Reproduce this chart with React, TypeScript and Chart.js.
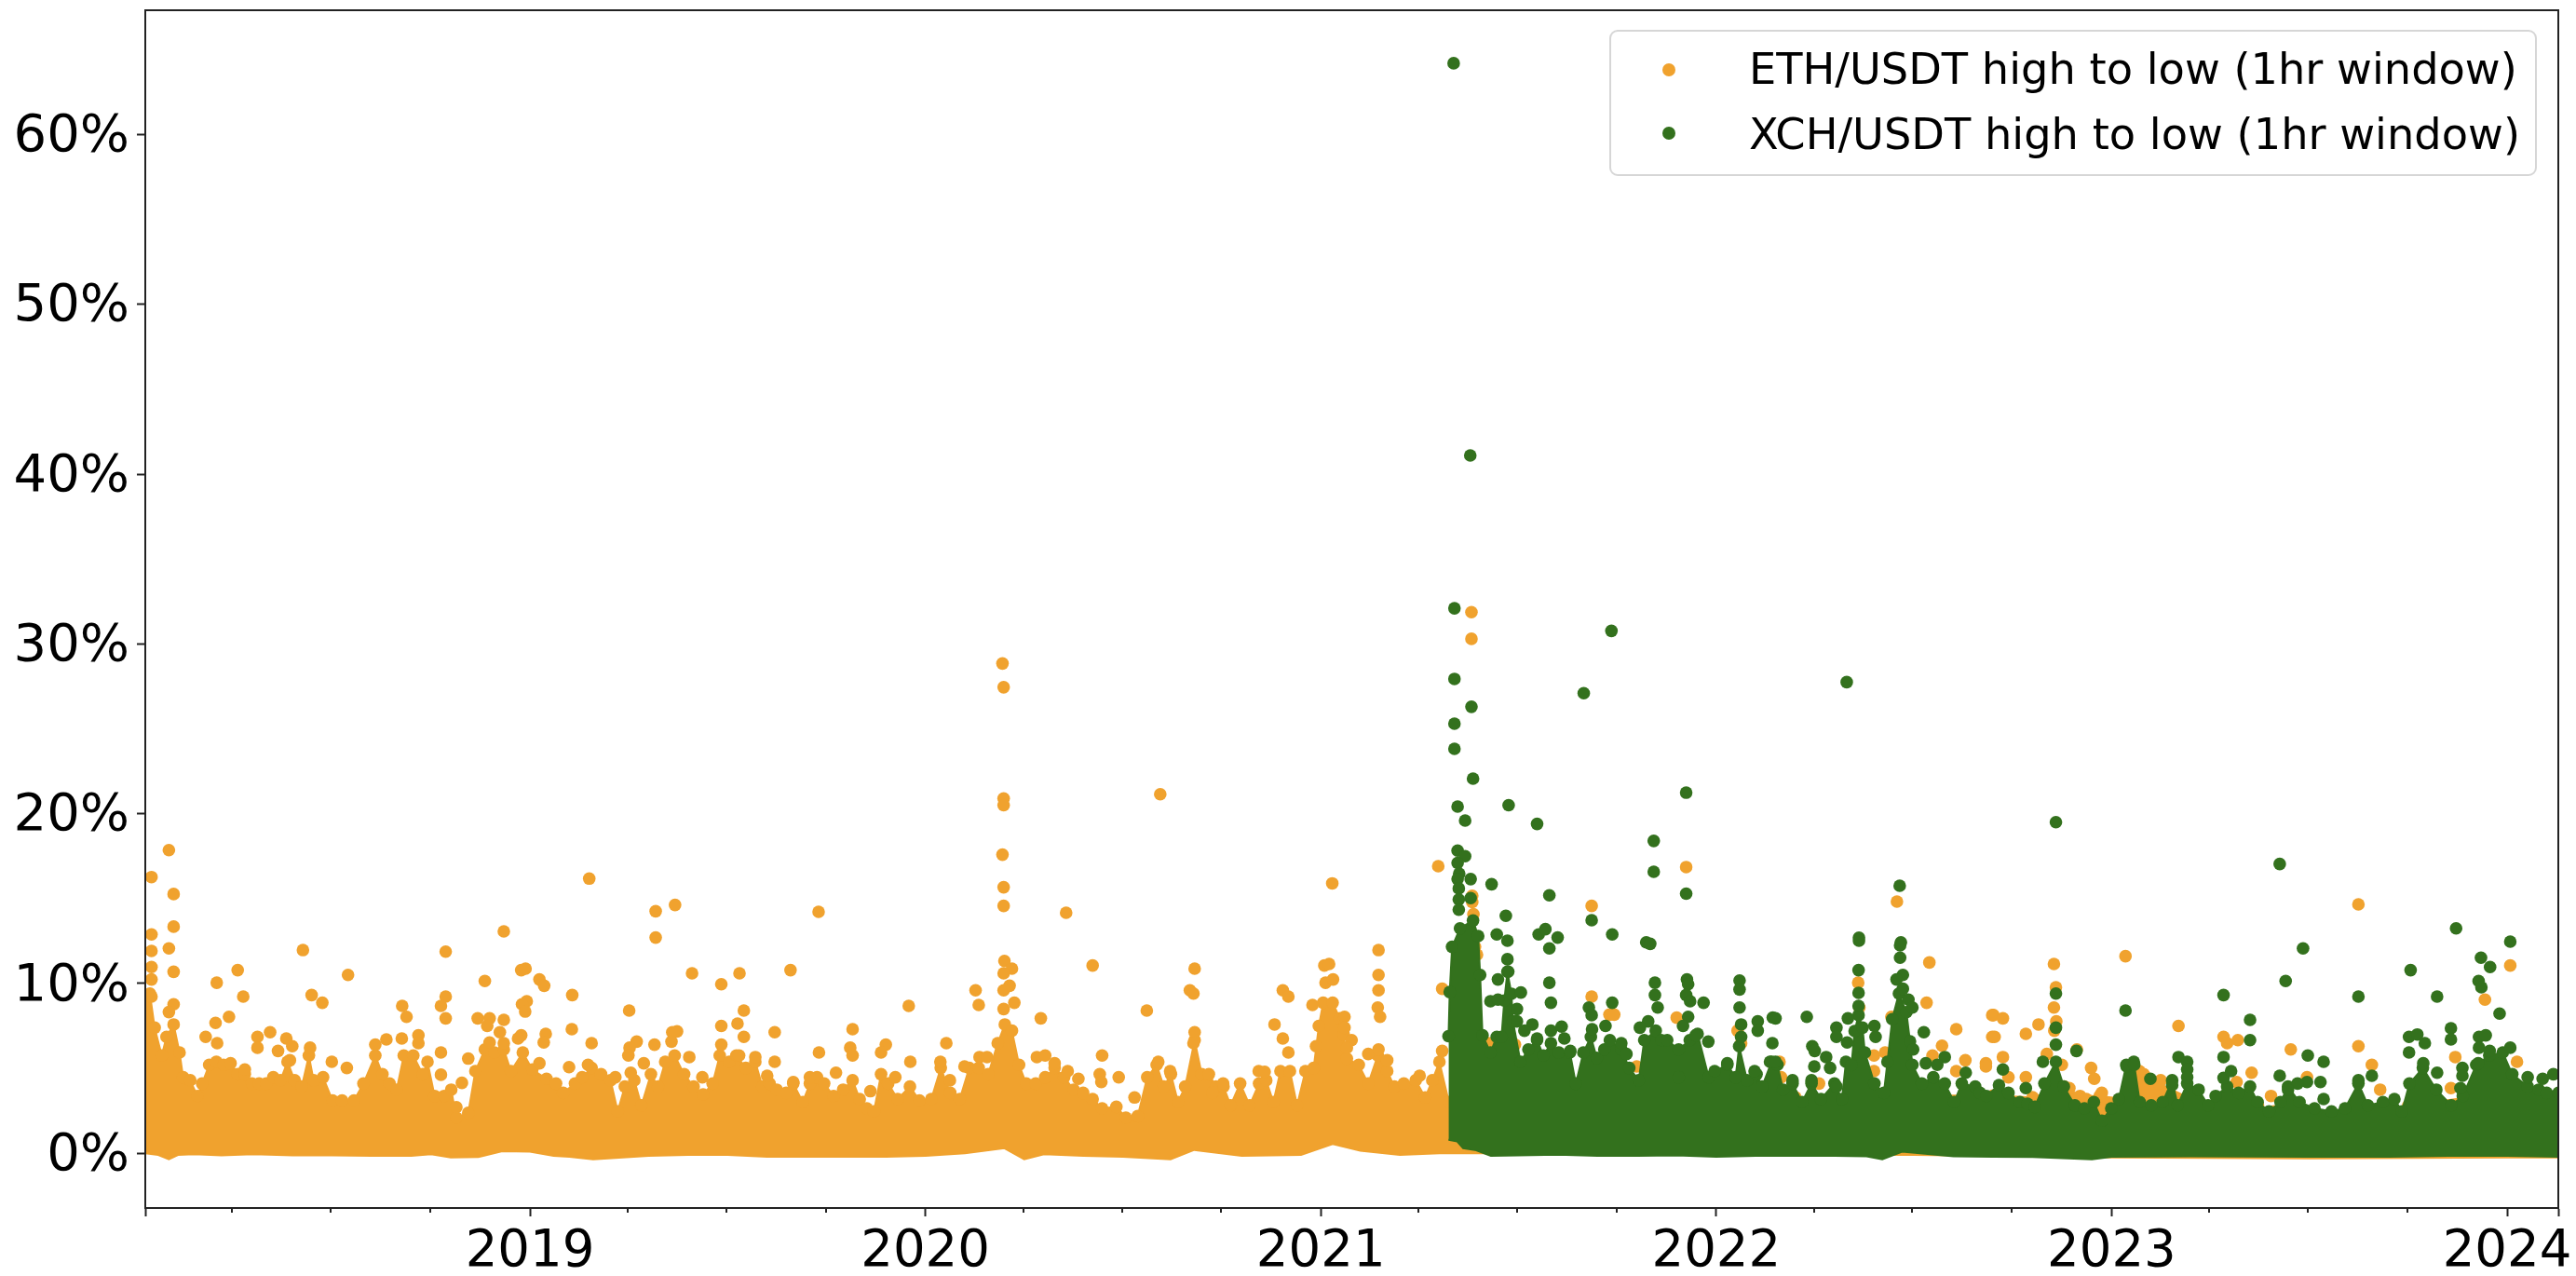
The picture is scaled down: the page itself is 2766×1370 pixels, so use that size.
import React, { useEffect, useRef } from "react";
import { Chart, registerables } from "chart.js";

Chart.register(...registerables);

type P = [number, number];

const yearLabels = [2019, 2020, 2021, 2022, 2023, 2024];
const xMin = 2018.0273;
const xMax = 2024.1295;
const quarterTicks = [
  2018.2466, 2018.4959, 2018.7479, 2019.2466, 2019.4959, 2019.7479, 2020.2486, 2020.4973, 2020.7486,
  2021.2466, 2021.4959, 2021.7479, 2022.2466, 2022.4959, 2022.7479, 2023.2466, 2023.4959, 2023.7479,
];
const yTickValues = [0, 10, 20, 30, 40, 50, 60];
const ethLabel = "ETH/USDT high to low (1hr window)";
const xchLabel = "XCH/USDT high to low (1hr window)";
const ethColor = "#F0A22E";
const xchColor = "#33711D";

// lower edge of the solid mass of dots
const ethFloor: P[] = [
  [2018.0, 0.1], [2018.06, -0.1], [2018.087, -0.35], [2018.11, -0.1], [2018.15, -0.05], [2018.22, -0.12], [2018.3, -0.05], [2018.4, -0.12],
  [2018.5, -0.12], [2018.6, -0.15], [2018.7, -0.15], [2018.75, -0.05], [2018.8, -0.25], [2018.87, -0.22], [2018.93, 0.12], [2019.0, 0.1],
  [2019.06, -0.15], [2019.1, -0.2], [2019.16, -0.35], [2019.3, -0.15], [2019.4, -0.1], [2019.5, -0.1], [2019.6, -0.2], [2019.7, -0.2],
  [2019.9, -0.2], [2020.0, -0.15], [2020.1, 0.0], [2020.2, 0.3], [2020.25, -0.35], [2020.3, -0.05], [2020.4, -0.15], [2020.5, -0.2],
  [2020.62, -0.35], [2020.68, 0.2], [2020.8, -0.15], [2020.95, -0.1], [2021.03, 0.55], [2021.1, 0.15], [2021.2, -0.1], [2021.3, 0.0],
  [2021.5, 0.0], [2022.0, -0.1], [2022.5, -0.1], [2023.0, -0.25], [2023.5, -0.3], [2024.0, -0.25], [2024.13, -0.25],
];

const ethBand: P[] = [
  [2018.0, 9.41], [2018.039, 9.41], [2018.051, 7.4], [2018.069, 5.76], [2018.081, 6.86], [2018.099, 7.59], [2018.114, 5.94], [2018.123, 4.48],
  [2018.141, 4.3], [2018.159, 3.38], [2018.171, 4.11], [2018.189, 5.21], [2018.207, 5.39], [2018.225, 5.21], [2018.243, 5.3], [2018.261, 4.66],
  [2018.279, 4.66], [2018.297, 4.11], [2018.315, 4.11], [2018.333, 4.11], [2018.351, 4.48], [2018.369, 4.3], [2018.387, 5.39], [2018.405, 4.3],
  [2018.423, 3.93], [2018.441, 5.76], [2018.453, 4.3], [2018.477, 4.48], [2018.501, 3.11], [2018.525, 3.11], [2018.555, 3.11], [2018.579, 4.11],
  [2018.609, 5.76], [2018.627, 4.66], [2018.645, 4.11], [2018.663, 3.75], [2018.681, 5.76], [2018.705, 5.76], [2018.729, 4.66], [2018.741, 5.39],
  [2018.759, 3.38], [2018.783, 3.38], [2018.801, 3.75], [2018.814, 2.1], [2018.844, 2.38], [2018.862, 4.84], [2018.886, 6.12], [2018.91, 5.94],
  [2018.934, 6.12], [2018.952, 4.84], [2018.982, 5.94], [2019.006, 4.94], [2019.042, 4.39], [2019.066, 4.11], [2019.084, 3.56], [2019.114, 4.11],
  [2019.132, 4.48], [2019.156, 5.03], [2019.18, 4.66], [2019.204, 4.3], [2019.222, 2.47], [2019.24, 3.93], [2019.264, 4.3], [2019.282, 2.83],
  [2019.306, 4.66], [2019.324, 3.93], [2019.342, 5.39], [2019.366, 5.76], [2019.39, 4.66], [2019.414, 3.93], [2019.438, 3.47], [2019.462, 4.11],
  [2019.48, 5.76], [2019.504, 5.39], [2019.522, 5.76], [2019.546, 5.03], [2019.57, 5.39], [2019.588, 3.93], [2019.606, 4.11], [2019.624, 3.75],
  [2019.648, 3.56], [2019.666, 4.11], [2019.69, 3.02], [2019.708, 4.11], [2019.726, 4.48], [2019.744, 4.11], [2019.768, 3.38], [2019.792, 3.75],
  [2019.816, 4.3], [2019.834, 3.2], [2019.852, 2.65], [2019.87, 2.47], [2019.888, 4.66], [2019.906, 4.11], [2019.93, 3.2], [2019.961, 3.93],
  [2019.985, 3.11], [2020.015, 3.2], [2020.039, 5.03], [2020.063, 3.56], [2020.087, 3.2], [2020.111, 5.03], [2020.135, 5.03], [2020.159, 4.66],
  [2020.183, 6.49], [2020.201, 7.59], [2020.219, 7.22], [2020.237, 5.21], [2020.255, 4.11], [2020.279, 4.11], [2020.303, 4.48], [2020.327, 5.03],
  [2020.351, 4.48], [2020.375, 3.75], [2020.399, 3.56], [2020.423, 3.2], [2020.447, 2.65], [2020.483, 2.74], [2020.507, 2.1], [2020.537, 2.19],
  [2020.561, 4.48], [2020.585, 5.21], [2020.603, 3.93], [2020.621, 4.66], [2020.639, 3.02], [2020.657, 3.93], [2020.681, 6.67], [2020.699, 4.66],
  [2020.717, 4.66], [2020.735, 3.93], [2020.754, 3.93], [2020.772, 2.83], [2020.796, 4.11], [2020.82, 2.83], [2020.844, 4.11], [2020.862, 4.3],
  [2020.88, 3.02], [2020.898, 4.84], [2020.922, 4.84], [2020.94, 2.83], [2020.961, 4.84], [2020.982, 5.03], [2020.995, 7.5], [2021.006, 8.87], [2021.03, 8.87],
  [2021.048, 7.95], [2021.058, 7.0], [2021.066, 5.58], [2021.096, 5.21], [2021.12, 4.11], [2021.144, 5.76], [2021.168, 4.84], [2021.186, 3.93], [2021.21, 4.11],
  [2021.24, 4.3], [2021.264, 3.29], [2021.282, 4.3], [2021.3, 5.39], [2021.324, 3.02], [2021.4, 3.8], [2021.6, 3.6], [2021.8, 4.0],
  [2022.0, 3.5], [2022.2, 3.3], [2022.4, 3.2], [2022.55, 3.4], [2022.7, 3.4], [2022.8, 3.3], [2022.88, 3.93], [2022.92, 3.38],
  [2022.97, 3.38], [2023.03, 3.2], [2023.07, 4.84], [2023.12, 4.11], [2023.25, 2.65], [2023.37, 2.83], [2023.41, 2.47], [2023.6, 2.2],
  [2023.75, 2.8], [2023.9, 3.3], [2024.0, 3.3], [2024.13, 3.0],
];

const ethOutliers: P[] = [
  [2018.087, 17.86], [2018.043, 16.27], [2018.099, 15.27], [2018.043, 12.89], [2018.099, 13.35], [2018.087, 12.07], [2018.043, 11.92], [2018.043, 10.97],
  [2018.043, 10.24], [2018.099, 10.69], [2018.099, 8.78], [2018.087, 8.32], [2018.043, 9.23], [2018.208, 10.05], [2018.261, 10.79], [2018.275, 9.23],
  [2018.239, 8.04], [2018.205, 7.68], [2018.18, 6.86], [2018.426, 11.97], [2018.54, 10.51], [2018.448, 9.32], [2018.475, 8.87], [2018.343, 7.13],
  [2018.311, 6.86], [2018.384, 6.76], [2018.399, 6.31], [2018.444, 6.22], [2018.209, 6.49], [2018.311, 6.22], [2018.363, 6.03], [2018.393, 5.48],
  [2018.499, 5.39], [2018.537, 5.03], [2018.279, 4.94], [2018.787, 11.88], [2018.787, 9.23], [2018.775, 8.68], [2018.787, 7.95], [2018.677, 8.68],
  [2018.688, 8.04], [2018.637, 6.71], [2018.676, 6.76], [2018.718, 6.95], [2018.718, 6.49], [2018.609, 6.4], [2018.775, 5.94], [2018.775, 4.63],
  [2018.844, 5.58], [2018.828, 4.15], [2018.814, 2.72], [2018.886, 10.15], [2018.934, 13.07], [2018.978, 10.79], [2018.989, 10.88], [2019.024, 10.24],
  [2019.036, 9.87], [2018.992, 8.96], [2018.98, 8.78], [2018.988, 8.35], [2018.868, 7.95], [2018.898, 7.95], [2018.892, 7.5], [2018.934, 7.86],
  [2018.924, 7.13], [2018.978, 6.95], [2018.97, 6.76], [2018.898, 6.53], [2018.934, 6.49], [2019.04, 7.04], [2019.035, 6.53], [2019.024, 5.3],
  [2019.107, 9.32], [2019.106, 7.31], [2019.099, 5.08], [2019.156, 6.49], [2019.15, 16.18], [2019.318, 14.26], [2019.367, 14.63], [2019.318, 12.71],
  [2019.41, 10.6], [2019.484, 9.96], [2019.53, 10.6], [2019.251, 8.41], [2019.27, 6.58], [2019.252, 6.22], [2019.249, 5.76], [2019.255, 4.75],
  [2019.315, 6.4], [2019.36, 7.13], [2019.372, 7.18], [2019.358, 6.58], [2019.484, 7.5], [2019.525, 7.64], [2019.541, 8.41], [2019.484, 6.4],
  [2019.541, 6.86], [2019.216, 4.48], [2019.147, 5.21], [2019.288, 5.3], [2019.436, 4.48], [2019.403, 5.67], [2019.529, 5.76],
  [2020.195, 28.85], [2020.198, 27.45], [2020.198, 20.9], [2020.198, 20.5], [2020.195, 17.59], [2020.198, 15.67], [2020.198, 14.57], [2019.73, 14.22],
  [2020.356, 14.17], [2021.297, 16.91], [2021.029, 15.9], [2020.594, 21.15], [2019.659, 10.79], [2020.423, 11.06], [2020.681, 10.88], [2021.146, 11.97],
  [2021.146, 10.51], [2021.146, 9.6], [2021.144, 8.59], [2021.15, 8.04], [2021.009, 11.06], [2021.021, 11.15], [2021.012, 10.05], [2021.031, 10.24],
  [2020.904, 9.6], [2020.918, 9.23], [2020.669, 9.6], [2020.678, 9.41], [2021.307, 9.69], [2020.127, 9.6], [2020.135, 8.74], [2019.958, 8.68],
  [2020.292, 7.95], [2020.56, 8.41], [2020.979, 8.74], [2020.883, 7.59], [2020.904, 6.76], [2020.918, 5.94], [2020.681, 7.13], [2020.678, 6.49],
  [2019.619, 7.13], [2019.816, 7.31], [2020.053, 6.49], [2019.731, 5.94], [2019.81, 6.22], [2019.816, 5.76], [2019.9, 6.4], [2019.888, 5.94],
  [2019.619, 5.39], [2019.962, 5.39], [2020.038, 5.39], [2020.137, 5.67], [2020.156, 5.67], [2019.57, 5.67], [2020.282, 5.67], [2020.303, 5.76],
  [2020.447, 5.76], [2020.441, 4.66], [2020.445, 4.2], [2020.489, 4.48], [2020.988, 6.31], [2021.078, 6.67], [2021.066, 6.22], [2021.06, 8.04],
  [2021.06, 7.4], [2021.12, 5.85], [2021.146, 6.12], [2021.168, 5.48], [2021.25, 4.57], [2021.307, 6.03], [2020.529, 3.29], [2020.2, 11.33],
  [2020.219, 10.88], [2020.213, 9.87], [2020.225, 8.87], [2020.198, 10.6], [2020.198, 9.6], [2020.198, 8.5], [2020.589, 5.39], [2020.619, 4.84],
  [2020.843, 4.84], [2020.858, 4.8], [2020.726, 3.56], [2020.753, 4.11], [2019.774, 4.75], [2020.099, 5.12], [2020.327, 5.3], [2020.36, 4.84],
  [2020.387, 4.39], [2019.6, 4.57], [2019.666, 4.2], [2019.708, 4.48], [2019.861, 3.66], [2019.924, 4.48], [2020.062, 4.3],
  [2021.381, 31.87], [2021.381, 30.3], [2021.383, 15.17], [2021.383, 14.8], [2021.386, 14.08], [2021.395, 11.7], [2021.39, 12.16], [2021.924, 16.86],
  [2021.685, 14.57], [2021.685, 9.23], [2021.73, 8.17], [2021.742, 8.17], [2021.9, 7.99], [2022.457, 14.83], [2022.539, 11.24], [2022.532, 8.87],
  [2022.359, 10.05], [2022.362, 8.59], [2022.443, 8.04], [2022.698, 8.14], [2022.698, 6.86], [2022.607, 7.31], [2022.571, 6.34], [2022.547, 5.76],
  [2022.682, 5.3], [2022.63, 5.48], [2022.607, 4.84], [2022.399, 5.76], [2022.399, 4.84], [2022.427, 5.94], [2022.16, 5.39], [2022.164, 4.48],
  [2022.26, 4.11], [2022.063, 6.49], [2022.054, 7.22], [2021.491, 6.4], [2021.424, 6.49], [2021.799, 5.12], [2021.886, 4.48], [2022.02, 3.93],
  [2023.624, 14.66], [2023.035, 11.61], [2022.854, 11.15], [2024.008, 11.06], [2022.859, 9.78], [2022.854, 8.59], [2022.701, 8.14], [2022.725, 7.95],
  [2022.704, 6.86], [2022.783, 7.04], [2022.815, 7.59], [2022.86, 7.77], [2022.855, 7.22], [2023.169, 7.5], [2023.283, 6.86], [2023.292, 6.49],
  [2023.319, 6.67], [2023.453, 6.12], [2023.624, 6.31], [2023.944, 9.05], [2023.869, 5.67], [2024.025, 5.39], [2023.658, 5.21], [2023.679, 3.75],
  [2023.354, 4.75], [2023.403, 3.38], [2022.682, 5.12], [2022.725, 5.67], [2022.783, 4.48], [2022.739, 4.48], [2022.948, 5.03], [2022.956, 4.39],
  [2022.975, 3.56], [2022.936, 3.2], [2022.912, 6.12], [2022.836, 5.85], [2022.874, 5.21], [2023.316, 4.2], [2023.494, 4.48], [2023.858, 3.84],
  [2023.124, 4.3], [2023.081, 4.66], [2022.893, 3.84],
];

// lower edge of the solid mass of dots
const xchFloor: P[] = [
  [2021.323, 0.8], [2021.345, 0.7], [2021.36, 0.3], [2021.39, 0.2], [2021.43, -0.15], [2021.5, -0.12], [2021.6, -0.08], [2021.7, -0.15],
  [2021.8, -0.15], [2021.9, -0.12], [2022.0, -0.2], [2022.1, -0.15], [2022.2, -0.15], [2022.3, -0.15], [2022.38, -0.18], [2022.42, -0.35],
  [2022.47, 0.1], [2022.6, -0.18], [2022.7, -0.2], [2022.8, -0.22], [2022.95, -0.35], [2023.0, -0.2], [2023.2, -0.18], [2023.5, -0.2],
  [2023.7, -0.2], [2023.85, -0.15], [2024.0, -0.15], [2024.13, -0.2],
];

const xchBand: P[] = [
  [2021.323, 6.9], [2021.326, 9.5], [2021.332, 12.16], [2021.352, 13.25], [2021.385, 13.71], [2021.398, 12.8], [2021.403, 10.51], [2021.409, 6.95], [2021.429, 5.94], [2021.445, 6.86], [2021.457, 6.86], [2021.464, 9.0],
  [2021.472, 10.7], [2021.482, 9.4], [2021.486, 7.77], [2021.505, 5.39], [2021.525, 6.12], [2021.547, 6.67], [2021.563, 5.76], [2021.582, 6.49], [2021.602, 5.94],
  [2021.63, 5.94], [2021.645, 4.11], [2021.664, 5.94], [2021.683, 6.86], [2021.698, 5.62], [2021.717, 6.12], [2021.731, 6.67], [2021.76, 6.12],
  [2021.78, 5.03], [2021.804, 4.3], [2021.818, 6.67], [2021.847, 7.22], [2021.861, 6.67], [2021.876, 6.67], [2021.905, 6.12], [2021.933, 6.67],
  [2021.953, 7.04], [2021.981, 4.48], [2021.996, 4.84], [2022.028, 5.21], [2022.049, 4.48], [2022.058, 6.31], [2022.078, 4.3], [2022.102, 4.66],
  [2022.116, 3.93], [2022.14, 5.39], [2022.155, 5.21], [2022.169, 3.75], [2022.193, 4.11], [2022.217, 3.02], [2022.241, 4.11], [2022.265, 3.2],
  [2022.299, 4.11], [2022.318, 3.2], [2022.328, 5.39], [2022.342, 5.2], [2022.35, 7.2], [2022.36, 8.14], [2022.37, 7.4], [2022.376, 5.94], [2022.4, 4.11], [2022.424, 3.56],
  [2022.433, 5.39], [2022.445, 7.9], [2022.462, 9.41], [2022.481, 8.31], [2022.49, 6.6], [2022.496, 5.21], [2022.52, 4.11], [2022.549, 4.48], [2022.578, 4.11], [2022.602, 3.02],
  [2022.621, 4.11], [2022.655, 3.93], [2022.667, 3.56], [2022.683, 3.38], [2022.715, 4.02], [2022.739, 3.56], [2022.768, 3.02], [2022.787, 2.92],
  [2022.806, 2.74], [2022.83, 4.11], [2022.859, 5.39], [2022.879, 3.93], [2022.907, 2.83], [2022.931, 2.65], [2022.955, 3.02], [2022.975, 1.92],
  [2022.999, 2.65], [2023.018, 3.2], [2023.037, 5.21], [2023.056, 5.39], [2023.071, 3.02], [2023.1, 2.83], [2023.129, 3.02], [2023.153, 4.3],
  [2023.167, 2.83], [2023.191, 4.11], [2023.22, 3.75], [2023.244, 2.83], [2023.263, 3.38], [2023.292, 3.93], [2023.321, 3.56], [2023.35, 3.93],
  [2023.369, 3.02], [2023.398, 2.47], [2023.427, 3.02], [2023.446, 3.93], [2023.475, 3.02], [2023.513, 2.65], [2023.556, 2.47], [2023.59, 2.65],
  [2023.624, 4.11], [2023.648, 2.83], [2023.686, 3.02], [2023.715, 3.2], [2023.734, 2.47], [2023.753, 4.11], [2023.787, 5.03], [2023.821, 3.75],
  [2023.859, 2.83], [2023.888, 3.38], [2023.922, 5.21], [2023.955, 5.76], [2023.989, 5.94], [2024.013, 4.66], [2024.052, 3.93], [2024.08, 3.75],
  [2024.1, 3.56], [2024.13, 3.56],
];

const xchOutliers: P[] = [
  [2021.336, 64.2], [2021.378, 41.1], [2021.338, 32.1], [2021.735, 30.77], [2021.338, 27.94], [2021.665, 27.1], [2022.33, 27.75], [2021.381, 26.3],
  [2021.338, 25.3], [2021.338, 23.82], [2021.385, 22.07], [2021.346, 20.42], [2021.475, 20.5], [2021.365, 19.6], [2021.547, 19.4], [2021.924, 21.24],
  [2021.842, 18.4], [2021.842, 16.58], [2021.924, 15.29], [2022.464, 15.76], [2021.685, 13.73], [2021.432, 15.85], [2021.578, 15.2], [2021.468, 13.99],
  [2021.346, 17.83], [2021.365, 17.5], [2021.346, 17.1], [2021.35, 16.47], [2021.346, 16.15], [2021.379, 16.15], [2021.349, 15.6], [2021.349, 14.95],
  [2021.379, 15.03], [2021.349, 14.35], [2022.859, 19.5],
  [2023.425, 17.04], [2023.484, 12.07], [2023.44, 10.15], [2023.283, 9.32], [2023.35, 7.86], [2023.35, 6.67], [2023.283, 5.67], [2023.283, 4.44],
  [2023.302, 4.84], [2023.624, 9.23], [2023.871, 13.25], [2024.008, 12.47], [2023.934, 11.52], [2023.957, 10.97], [2023.756, 10.79], [2023.928, 10.15],
  [2023.935, 9.78], [2023.823, 9.23], [2023.981, 8.23], [2023.858, 7.37], [2023.858, 6.71], [2023.752, 6.86], [2023.773, 7.0], [2023.792, 6.49],
  [2023.752, 5.94], [2023.929, 6.86], [2023.946, 6.95], [2023.929, 6.22], [2023.956, 6.03], [2024.008, 6.22], [2023.788, 5.3], [2023.823, 4.75],
  [2023.887, 5.03], [2023.887, 4.57], [2023.882, 3.84], [2023.927, 5.3], [2024.052, 4.48], [2024.09, 4.39], [2024.117, 4.66], [2023.496, 5.76],
  [2023.536, 5.39], [2023.425, 4.57], [2023.528, 4.2], [2023.494, 4.2], [2023.47, 4.11], [2023.446, 3.75], [2023.536, 3.2], [2023.658, 4.57],
  [2023.624, 4.3], [2023.169, 5.67], [2023.191, 5.39], [2023.191, 4.94], [2023.191, 4.48], [2023.035, 8.41], [2022.859, 9.41], [2022.859, 7.4],
  [2022.859, 6.4], [2022.911, 6.03], [2022.826, 5.39], [2022.725, 4.94], [2022.783, 3.84], [2023.038, 5.12], [2023.057, 5.21], [2023.098, 4.39],
  [2023.153, 4.02],
  [2021.445, 12.89], [2021.472, 12.52], [2021.551, 12.89], [2021.568, 13.2], [2021.599, 12.71], [2021.578, 12.07], [2021.737, 12.89], [2021.823, 12.43],
  [2021.833, 12.34], [2022.361, 12.7], [2022.361, 12.52], [2022.467, 12.43], [2022.465, 12.25], [2022.465, 11.52], [2022.36, 10.79], [2022.472, 10.51],
  [2022.456, 10.24], [2022.472, 9.69], [2022.36, 9.45], [2022.36, 8.68], [2022.486, 9.05], [2022.496, 8.59], [2021.472, 11.43], [2021.448, 10.24],
  [2021.506, 9.47], [2021.474, 10.7], [2021.429, 8.96], [2021.448, 9.05], [2021.496, 8.5], [2021.496, 7.77], [2021.578, 10.05], [2021.582, 8.87],
  [2021.582, 7.22], [2021.609, 7.46], [2021.616, 6.76], [2021.535, 7.59], [2021.515, 7.22], [2021.547, 6.76], [2021.678, 8.59], [2021.685, 8.14],
  [2021.737, 8.87], [2021.72, 7.5], [2021.686, 7.31], [2021.76, 6.49], [2021.773, 5.85], [2021.845, 10.05], [2021.845, 9.32], [2021.852, 8.59],
  [2021.828, 7.77], [2021.807, 7.4], [2021.926, 10.24], [2021.929, 9.96], [2021.924, 9.32], [2021.934, 8.96], [2021.968, 8.87], [2021.929, 8.04],
  [2021.916, 7.5], [2021.948, 6.95], [2021.98, 6.58], [2022.059, 10.18], [2022.059, 9.65], [2022.059, 8.59], [2022.063, 7.59], [2022.063, 6.86],
  [2022.105, 7.77], [2022.105, 7.22], [2022.143, 8.0], [2022.15, 7.95], [2022.142, 6.49], [2022.229, 8.04], [2022.243, 6.31], [2022.249, 6.03],
  [2022.278, 5.67], [2022.288, 5.03], [2022.248, 5.12], [2022.333, 7.95], [2022.304, 7.4], [2022.304, 6.86], [2022.331, 6.53], [2022.4, 7.5],
  [2022.403, 6.86], [2022.525, 7.13], [2022.498, 6.12], [2022.53, 5.3], [2022.578, 5.67], [2022.559, 5.21], [2022.631, 4.75], [2022.136, 5.39],
  [2022.15, 5.39], [2022.028, 5.3], [2022.097, 4.84], [2022.193, 4.3], [2022.241, 4.3], [2022.304, 3.93], [2021.905, 4.48], [2021.631, 6.03],
];

const toXY = (rows: P[]) => rows.map(([x, y]) => ({ x, y }));

const frameAndLegend = {
  id: "frameAndLegend",
  afterDatasetsDraw(chart: any) {
    const { ctx, chartArea: a, scales } = chart;
    ctx.save();
    ctx.strokeStyle = "#222";
    ctx.lineWidth = 2;
    for (const q of quarterTicks) {
      const px = Math.round(scales.x.getPixelForValue(q));
      ctx.beginPath();
      ctx.moveTo(px, a.bottom);
      ctx.lineTo(px, a.bottom + 5);
      ctx.stroke();
    }
    ctx.strokeRect(a.left, a.top, a.right - a.left, a.bottom - a.top);
    const bx = 1729, by = 33, bw = 994, bh = 155;
    ctx.beginPath();
    ctx.roundRect(bx, by, bw, bh, 8);
    ctx.fillStyle = "rgba(255,255,255,0.8)";
    ctx.fill();
    ctx.strokeStyle = "#d6d6d6";
    ctx.lineWidth = 2;
    ctx.stroke();
    ctx.font = '46.3px "DejaVu Sans"';
    ctx.textBaseline = "alphabetic";
    ctx.textAlign = "left";
    const rows: [string, string, number, number][] = [
      [ethLabel, ethColor, 75, 90],
      [xchLabel, xchColor, 143, 160],
    ];
    for (const [label, color, my, ty] of rows) {
      ctx.fillStyle = color;
      ctx.beginPath();
      ctx.arc(1792, my, 7, 0, Math.PI * 2);
      ctx.fill();
      ctx.fillStyle = "#000";
      ctx.fillText(label, 1878, ty);
    }
    ctx.restore();
  },
};

export default function App() {
  const ref = useRef<HTMLCanvasElement>(null);
  useEffect(() => {
    const point = (color: string) => ({
      borderColor: color,
      backgroundColor: color,
      pointBackgroundColor: color,
      pointBorderColor: color,
      pointBorderWidth: 0,
      pointRadius: 6.8,
      pointHoverRadius: 6.8,
    });
    const chart = new Chart(ref.current!, {
      type: "scatter",
      data: {
        datasets: [
          { type: "line", data: toXY(ethFloor), showLine: true, borderWidth: 2, fill: false, order: 6, ...point(ethColor), pointRadius: 0 },
          { type: "line", data: toXY(ethBand), showLine: true, borderWidth: 2, fill: 0, order: 5, ...point(ethColor) },
          { label: ethLabel, data: toXY(ethOutliers), order: 4, ...point(ethColor) },
          { type: "line", data: toXY(xchFloor), showLine: true, borderWidth: 2, fill: false, order: 3, ...point(xchColor), pointRadius: 0 },
          { type: "line", data: toXY(xchBand), showLine: true, borderWidth: 2, fill: 3, order: 2, ...point(xchColor) },
          { label: xchLabel, data: toXY(xchOutliers), order: 1, ...point(xchColor) },
        ] as any,
      },
      options: {
        responsive: false,
        animation: false,
        events: [],
        layout: { padding: { top: 11, right: 19, left: 0, bottom: 0 } },
        plugins: { legend: { display: false }, tooltip: { enabled: false } },
        scales: {
          x: {
            type: "linear",
            min: xMin,
            max: xMax,
            afterBuildTicks: (s: any) => {
              s.ticks = [xMin, ...yearLabels, xMax].map((value) => ({ value }));
            },
            afterFit: (s: any) => {
              s.height = 73;
              s.paddingLeft = 0;
              s.paddingRight = 0;
            },
            grid: { drawOnChartArea: false, drawTicks: true, tickLength: 9, tickWidth: 2, tickColor: "#222" },
            border: { color: "#222", width: 2 },
            ticks: {
              autoSkip: false,
              maxRotation: 0,
              padding: 6,
              color: "#000",
              font: { family: "DejaVu Sans", size: 54.5 },
              callback: (v: any) => (yearLabels.includes(v) ? String(v) : ""),
            },
          },
          y: {
            type: "linear",
            min: -3.22,
            max: 67.32,
            afterBuildTicks: (s: any) => {
              s.ticks = yTickValues.map((value) => ({ value }));
            },
            afterFit: (s: any) => {
              s.width = 156;
              s.paddingTop = 0;
              s.paddingBottom = 0;
            },
            grid: { drawOnChartArea: false, drawTicks: true, tickLength: 9, tickWidth: 2, tickColor: "#222" },
            border: { color: "#222", width: 2 },
            ticks: {
              padding: 8,
              labelOffset: 3,
              color: "#000",
              font: { family: "DejaVu Sans", size: 56 },
              callback: (v: any) => `${v}%`,
            },
          },
        },
      },
      plugins: [frameAndLegend],
    } as any);
    return () => chart.destroy();
  }, []);
  return (
    <canvas
      ref={ref}
      width={2766}
      height={1370}
      style={{ position: "fixed", left: 0, top: 0, width: 2766, height: 1370, display: "block" }}
    />
  );
}
